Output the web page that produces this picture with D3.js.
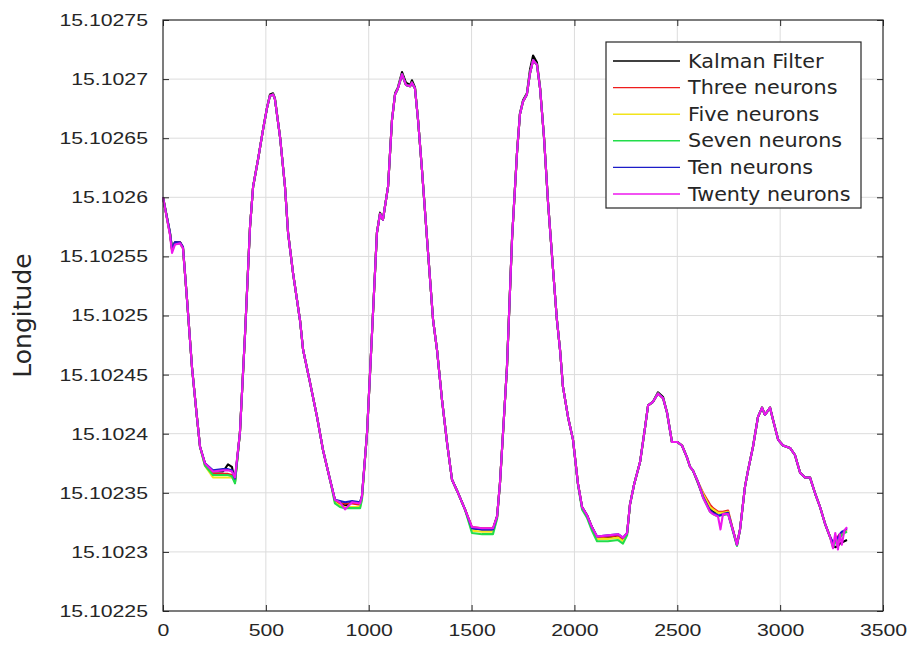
<!DOCTYPE html>
<html>
<head>
<meta charset="utf-8">
<script src="https://cdn.jsdelivr.net/npm/d3@7"></script>
<style>
  body { margin: 0; background: #fff; }
  svg { font-family: "DejaVu Sans", sans-serif; }
</style>
</head>
<body>
<svg id="chart" width="916" height="648"></svg>
<script>
// sample index, shared by all series
const samples = [
  0, 34, 44, 58, 83, 97, 117, 141, 165, 180,
  204, 243, 292, 316, 335, 350,
  374, 399, 423, 438, 462, 486, 506, 520, 535, 544,
  569, 593, 608, 632, 666, 681, 715, 749, 778, 812,
  836, 860, 885, 919, 958, 967,
  992, 1016, 1040, 1055, 1069, 1094, 1113, 1128, 1142, 1162,
  1181, 1201, 1210, 1225, 1240, 1259, 1283, 1313, 1332, 1356,
  1381, 1405, 1434, 1468,
  1502, 1551, 1604, 1624,
  1638, 1653, 1672, 1697, 1721, 1735, 1750, 1769, 1784, 1799,
  1818, 1833, 1852, 1872, 1896, 1915, 1930, 1944, 1969, 1993,
  2017, 2037, 2061, 2085,
  2110, 2163, 2212, 2236, 2256,
  2270, 2290, 2319, 2343, 2358, 2382, 2406, 2431, 2450, 2474,
  2499, 2523, 2547, 2562, 2576, 2601,
  2625, 2659, 2674, 2698, 2710, 2722, 2747, 2766, 2790, 2805,
  2829, 2844, 2868, 2892, 2912, 2926, 2951, 2965, 2990, 3014,
  3048, 3072, 3097, 3121, 3145, 3169, 3194, 3218, 3242,
  3257, 3268, 3281, 3290, 3300, 3312, 3325
];

const kalman = [
  15.102600, 15.102570, 15.102557, 15.102562, 15.102562, 15.102558, 15.102513, 15.102456, 15.102414, 15.102389,
  15.102375, 15.102368, 15.102368, 15.102374, 15.102372, 15.102359,
  15.102401, 15.102485, 15.102575, 15.102609, 15.102632, 15.102657, 15.102676, 15.102687, 15.102688, 15.102684,
  15.102651, 15.102609, 15.102570, 15.102536, 15.102496, 15.102471, 15.102443, 15.102414, 15.102386, 15.102361,
  15.102344, 15.102342, 15.102339, 15.102342, 15.102342, 15.102347,
  15.102401, 15.102485, 15.102570, 15.102587, 15.102581, 15.102609, 15.102665, 15.102688, 15.102693, 15.102706,
  15.102697, 15.102695, 15.102699, 15.102693, 15.102665, 15.102623, 15.102566, 15.102496, 15.102471, 15.102429,
  15.102392, 15.102361, 15.102350, 15.102336,
  15.102320, 15.102319, 15.102319, 15.102330,
  15.102358, 15.102401, 15.102456, 15.102566, 15.102638, 15.102671, 15.102682, 15.102688, 15.102708, 15.102720,
  15.102714, 15.102693, 15.102651, 15.102595, 15.102539, 15.102496, 15.102471, 15.102440, 15.102414, 15.102395,
  15.102358, 15.102338, 15.102331, 15.102321,
  15.102312, 15.102312, 15.102314, 15.102310, 15.102316,
  15.102340, 15.102357, 15.102376, 15.102405, 15.102424, 15.102427, 15.102435, 15.102431, 15.102418, 15.102393,
  15.102393, 15.102390, 15.102380, 15.102372, 15.102369, 15.102358,
  15.102347, 15.102336, 15.102334, 15.102333, 15.102333, 15.102333, 15.102333, 15.102321, 15.102306, 15.102319,
  15.102355, 15.102369, 15.102389, 15.102414, 15.102422, 15.102416, 15.102422, 15.102412, 15.102395, 15.102390,
  15.102388, 15.102382, 15.102367, 15.102363, 15.102363, 15.102350, 15.102338, 15.102324, 15.102313,
  15.102306, 15.102304, 15.102305, 15.102307, 15.102308, 15.102309, 15.102310
];

const three = [
  15.102600, 15.102569, 15.102555, 15.102561, 15.102562, 15.102557, 15.102513, 15.102456, 15.102414, 15.102389,
  15.102374, 15.102366, 15.102366, 15.102366, 15.102365, 15.102361,
  15.102401, 15.102485, 15.102575, 15.102609, 15.102632, 15.102657, 15.102676, 15.102686, 15.102687, 15.102683,
  15.102651, 15.102609, 15.102570, 15.102536, 15.102496, 15.102471, 15.102443, 15.102414, 15.102386, 15.102361,
  15.102343, 15.102341, 15.102341, 15.102341, 15.102340, 15.102346,
  15.102401, 15.102485, 15.102570, 15.102586, 15.102581, 15.102609, 15.102665, 15.102687, 15.102692, 15.102704,
  15.102695, 15.102694, 15.102697, 15.102692, 15.102665, 15.102623, 15.102566, 15.102496, 15.102471, 15.102429,
  15.102392, 15.102361, 15.102350, 15.102336,
  15.102321, 15.102320, 15.102320, 15.102330,
  15.102358, 15.102401, 15.102456, 15.102566, 15.102638, 15.102670, 15.102681, 15.102687, 15.102705, 15.102716,
  15.102712, 15.102692, 15.102651, 15.102595, 15.102539, 15.102496, 15.102471, 15.102440, 15.102414, 15.102395,
  15.102358, 15.102338, 15.102331, 15.102321,
  15.102312, 15.102313, 15.102314, 15.102311, 15.102316,
  15.102340, 15.102357, 15.102376, 15.102405, 15.102424, 15.102427, 15.102434, 15.102430, 15.102418, 15.102393,
  15.102393, 15.102390, 15.102380, 15.102372, 15.102369, 15.102359,
  15.102350, 15.102340, 15.102337, 15.102334, 15.102334, 15.102334, 15.102335, 15.102322, 15.102306, 15.102319,
  15.102355, 15.102369, 15.102389, 15.102414, 15.102422, 15.102416, 15.102422, 15.102412, 15.102395, 15.102390,
  15.102388, 15.102382, 15.102367, 15.102363, 15.102363, 15.102350, 15.102338, 15.102324, 15.102313,
  15.102307, 15.102311, 15.102313, 15.102315, 15.102316, 15.102318, 15.102319
];

const five = [
  15.102600, 15.102569, 15.102555, 15.102561, 15.102561, 15.102557, 15.102513, 15.102456, 15.102414, 15.102389,
  15.102373, 15.102363, 15.102363, 15.102363, 15.102363, 15.102360,
  15.102401, 15.102485, 15.102575, 15.102609, 15.102632, 15.102657, 15.102676, 15.102686, 15.102687, 15.102683,
  15.102651, 15.102609, 15.102570, 15.102536, 15.102496, 15.102471, 15.102443, 15.102414, 15.102386, 15.102361,
  15.102342, 15.102339, 15.102338, 15.102338, 15.102338, 15.102345,
  15.102401, 15.102485, 15.102570, 15.102586, 15.102581, 15.102609, 15.102665, 15.102687, 15.102692, 15.102704,
  15.102695, 15.102694, 15.102697, 15.102692, 15.102665, 15.102623, 15.102566, 15.102496, 15.102471, 15.102429,
  15.102392, 15.102361, 15.102350, 15.102336,
  15.102318, 15.102317, 15.102317, 15.102329,
  15.102358, 15.102401, 15.102456, 15.102566, 15.102638, 15.102670, 15.102681, 15.102687, 15.102705, 15.102716,
  15.102712, 15.102692, 15.102651, 15.102595, 15.102539, 15.102496, 15.102471, 15.102440, 15.102414, 15.102395,
  15.102358, 15.102337, 15.102330, 15.102320,
  15.102311, 15.102311, 15.102312, 15.102309, 15.102315,
  15.102340, 15.102357, 15.102376, 15.102405, 15.102424, 15.102427, 15.102434, 15.102430, 15.102418, 15.102393,
  15.102393, 15.102390, 15.102380, 15.102372, 15.102369, 15.102359,
  15.102349, 15.102338, 15.102336, 15.102333, 15.102333, 15.102333, 15.102334, 15.102321, 15.102306, 15.102319,
  15.102355, 15.102369, 15.102389, 15.102414, 15.102422, 15.102416, 15.102422, 15.102412, 15.102395, 15.102390,
  15.102388, 15.102382, 15.102367, 15.102363, 15.102363, 15.102350, 15.102338, 15.102324, 15.102313,
  15.102306, 15.102309, 15.102311, 15.102313, 15.102315, 15.102317, 15.102318
];

const seven = [
  15.102600, 15.102569, 15.102556, 15.102561, 15.102561, 15.102557, 15.102513, 15.102456, 15.102414, 15.102389,
  15.102373, 15.102365, 15.102365, 15.102365, 15.102364, 15.102358,
  15.102401, 15.102485, 15.102575, 15.102609, 15.102632, 15.102657, 15.102676, 15.102686, 15.102687, 15.102683,
  15.102651, 15.102609, 15.102570, 15.102536, 15.102496, 15.102471, 15.102443, 15.102414, 15.102386, 15.102361,
  15.102341, 15.102338, 15.102337, 15.102337, 15.102337, 15.102344,
  15.102401, 15.102485, 15.102570, 15.102586, 15.102581, 15.102609, 15.102665, 15.102687, 15.102692, 15.102704,
  15.102695, 15.102694, 15.102697, 15.102692, 15.102665, 15.102623, 15.102566, 15.102496, 15.102471, 15.102429,
  15.102392, 15.102361, 15.102350, 15.102336,
  15.102316, 15.102315, 15.102315, 15.102328,
  15.102358, 15.102401, 15.102456, 15.102566, 15.102638, 15.102670, 15.102681, 15.102687, 15.102705, 15.102716,
  15.102712, 15.102692, 15.102651, 15.102595, 15.102539, 15.102496, 15.102471, 15.102440, 15.102414, 15.102395,
  15.102357, 15.102336, 15.102329, 15.102318,
  15.102309, 15.102309, 15.102310, 15.102307, 15.102314,
  15.102340, 15.102357, 15.102376, 15.102405, 15.102424, 15.102427, 15.102434, 15.102430, 15.102418, 15.102393,
  15.102393, 15.102390, 15.102380, 15.102372, 15.102369, 15.102359,
  15.102346, 15.102334, 15.102332, 15.102330, 15.102331, 15.102331, 15.102332, 15.102320, 15.102305, 15.102319,
  15.102355, 15.102369, 15.102389, 15.102414, 15.102422, 15.102416, 15.102422, 15.102412, 15.102395, 15.102390,
  15.102388, 15.102382, 15.102367, 15.102363, 15.102363, 15.102350, 15.102338, 15.102324, 15.102313,
  15.102304, 15.102308, 15.102310, 15.102312, 15.102314, 15.102316, 15.102317
];

const ten = [
  15.102600, 15.102570, 15.102556, 15.102562, 15.102562, 15.102558, 15.102513, 15.102456, 15.102414, 15.102389,
  15.102375, 15.102369, 15.102370, 15.102370, 15.102369, 15.102362,
  15.102401, 15.102485, 15.102575, 15.102609, 15.102632, 15.102657, 15.102676, 15.102686, 15.102687, 15.102683,
  15.102651, 15.102609, 15.102570, 15.102536, 15.102496, 15.102471, 15.102443, 15.102414, 15.102386, 15.102361,
  15.102344, 15.102343, 15.102342, 15.102343, 15.102342, 15.102347,
  15.102401, 15.102485, 15.102570, 15.102586, 15.102581, 15.102609, 15.102665, 15.102687, 15.102692, 15.102704,
  15.102695, 15.102694, 15.102697, 15.102692, 15.102665, 15.102623, 15.102566, 15.102496, 15.102471, 15.102429,
  15.102392, 15.102361, 15.102350, 15.102336,
  15.102320, 15.102319, 15.102319, 15.102330,
  15.102358, 15.102401, 15.102456, 15.102566, 15.102638, 15.102670, 15.102681, 15.102687, 15.102705, 15.102716,
  15.102712, 15.102692, 15.102651, 15.102595, 15.102539, 15.102496, 15.102471, 15.102440, 15.102414, 15.102395,
  15.102358, 15.102338, 15.102331, 15.102321,
  15.102313, 15.102314, 15.102315, 15.102312, 15.102316,
  15.102340, 15.102357, 15.102376, 15.102405, 15.102424, 15.102427, 15.102434, 15.102430, 15.102418, 15.102393,
  15.102393, 15.102390, 15.102380, 15.102372, 15.102369, 15.102359,
  15.102347, 15.102335, 15.102333, 15.102331, 15.102331, 15.102332, 15.102333, 15.102321, 15.102306, 15.102319,
  15.102355, 15.102369, 15.102389, 15.102414, 15.102422, 15.102416, 15.102422, 15.102412, 15.102395, 15.102390,
  15.102388, 15.102382, 15.102367, 15.102363, 15.102363, 15.102350, 15.102338, 15.102324, 15.102313,
  15.102308, 15.102310, 15.102312, 15.102315, 15.102317, 15.102318, 15.102320
];

const twenty = [
  15.102600, 15.102568, 15.102553, 15.102560, 15.102561, 15.102557, 15.102513, 15.102456, 15.102414, 15.102389,
  15.102375, 15.102368, 15.102369, 15.102369, 15.102368, 15.102363,
  15.102401, 15.102485, 15.102575, 15.102609, 15.102632, 15.102657, 15.102676, 15.102686, 15.102687, 15.102683,
  15.102651, 15.102609, 15.102570, 15.102536, 15.102496, 15.102471, 15.102443, 15.102414, 15.102386, 15.102361,
  15.102344, 15.102342, 15.102336, 15.102342, 15.102341, 15.102347,
  15.102401, 15.102485, 15.102570, 15.102586, 15.102581, 15.102609, 15.102665, 15.102687, 15.102692, 15.102704,
  15.102695, 15.102694, 15.102697, 15.102692, 15.102665, 15.102623, 15.102566, 15.102496, 15.102471, 15.102429,
  15.102392, 15.102361, 15.102350, 15.102336,
  15.102321, 15.102320, 15.102320, 15.102330,
  15.102358, 15.102401, 15.102456, 15.102566, 15.102638, 15.102670, 15.102681, 15.102687, 15.102705, 15.102716,
  15.102712, 15.102692, 15.102651, 15.102595, 15.102539, 15.102496, 15.102471, 15.102440, 15.102414, 15.102395,
  15.102358, 15.102338, 15.102331, 15.102321,
  15.102313, 15.102314, 15.102315, 15.102312, 15.102316,
  15.102340, 15.102357, 15.102376, 15.102405, 15.102424, 15.102427, 15.102434, 15.102430, 15.102418, 15.102393,
  15.102393, 15.102390, 15.102380, 15.102372, 15.102369, 15.102359,
  15.102346, 15.102334, 15.102332, 15.102330, 15.102319, 15.102332, 15.102332, 15.102321, 15.102306, 15.102319,
  15.102355, 15.102369, 15.102389, 15.102414, 15.102422, 15.102416, 15.102422, 15.102412, 15.102395, 15.102390,
  15.102388, 15.102382, 15.102367, 15.102363, 15.102363, 15.102350, 15.102338, 15.102324, 15.102313,
  15.102303, 15.102316, 15.102302, 15.102315, 15.102306, 15.102318, 15.102321
];

const seriesNames = ["Kalman Filter", "Three neurons", "Five neurons", "Seven neurons", "Ten neurons", "Twenty neurons"];
const seriesValues = [kalman, three, five, seven, ten, twenty];
const seriesColors = ["#000000", "#ee1c1c", "#f2e41c", "#22dd4a", "#1c1cc8", "#ee18ee"];

const xTicks = [0, 500, 1000, 1500, 2000, 2500, 3000, 3500];
const xTickLabels = ["0", "500", "1000", "1500", "2000", "2500", "3000", "3500"];
const yTicks = [15.10225, 15.1023, 15.10235, 15.1024, 15.10245, 15.1025, 15.10255, 15.1026, 15.10265, 15.1027, 15.10275];
const yTickLabels = ["15.10225", "15.1023", "15.10235", "15.1024", "15.10245", "15.1025", "15.10255", "15.1026", "15.10265", "15.1027", "15.10275"];
const yLabel = "Longitude";

const svg = d3.select("#chart");
const margin = { top: 20, left: 163 };
const plotW = 720;
const plotH = 591;
const stretch = 1.25; // tick labels in the figure are drawn wide

const x = d3.scaleLinear().domain([0, 3500]).range([0, plotW]);
const y = d3.scaleLinear().domain([15.10225, 15.10275]).range([plotH, 0]);

const g = svg.append("g").attr("transform", `translate(${margin.left},${margin.top})`);

// grid
g.append("g")
  .selectAll("line")
  .data(xTicks.slice(1, -1))
  .join("line")
  .attr("x1", (d) => x(d)).attr("x2", (d) => x(d))
  .attr("y1", 0).attr("y2", plotH)
  .attr("stroke", "#dcdcdc").attr("stroke-width", 1);

g.append("g")
  .selectAll("line")
  .data(yTicks.slice(1, -1))
  .join("line")
  .attr("x1", 0).attr("x2", plotW)
  .attr("y1", (d) => y(d)).attr("y2", (d) => y(d))
  .attr("stroke", "#dcdcdc").attr("stroke-width", 1);

// lines
const line = d3.line()
  .x((d, i) => x(samples[i]))
  .y((d) => y(d));

g.append("g")
  .attr("fill", "none")
  .selectAll("path")
  .data(seriesValues)
  .join("path")
  .attr("stroke", (d, i) => seriesColors[i])
  .attr("stroke-width", 2.1)
  .attr("stroke-linejoin", "round")
  .attr("d", line);

// axes
const styleAxis = (sel) => {
  sel.select(".domain").remove();
  sel.selectAll(".tick line").attr("stroke", "#262626");
  sel.selectAll(".tick text").attr("font-size", 17).attr("fill", "#262626");
};

const xAxisG = g.append("g")
  .attr("transform", `translate(0,${plotH})`)
  .call(d3.axisBottom(x).tickValues(xTicks).tickSize(-6).tickPadding(13)
    .tickFormat((d, i) => xTickLabels[i]))
  .call(styleAxis);
xAxisG.selectAll(".tick text").attr("transform", `scale(${stretch},1)`);

g.append("g")
  .call(d3.axisTop(x).tickValues(xTicks).tickSize(-6).tickFormat(""))
  .call(styleAxis);

const yAxisG = g.append("g")
  .call(d3.axisLeft(y).tickValues(yTicks).tickSize(-6).tickPadding(12)
    .tickFormat((d, i) => yTickLabels[i]))
  .call(styleAxis);
yAxisG.selectAll(".tick text").attr("transform", `scale(${stretch},1)`);

g.append("g")
  .attr("transform", `translate(${plotW},0)`)
  .call(d3.axisRight(y).tickValues(yTicks).tickSize(-6).tickFormat(""))
  .call(styleAxis);

g.append("rect")
  .attr("width", plotW).attr("height", plotH)
  .attr("fill", "none").attr("stroke", "#262626").attr("stroke-width", 1.2);

svg.append("text")
  .attr("transform", `translate(31,${margin.top + plotH / 2}) rotate(-90)`)
  .attr("text-anchor", "middle")
  .attr("font-size", 25)
  .attr("fill", "#262626")
  .text(yLabel);

// legend
const legend = svg.append("g").attr("transform", "translate(606,42)");
legend.append("rect")
  .attr("width", 255).attr("height", 166)
  .attr("fill", "#fff").attr("stroke", "#262626").attr("stroke-width", 1.2);

const rows = legend.selectAll("g.row")
  .data(seriesNames)
  .join("g")
  .attr("class", "row")
  .attr("transform", (d, i) => `translate(0,${19 + i * 26.6})`);

rows.append("line")
  .attr("x1", 7).attr("x2", 74)
  .attr("stroke", (d, i) => seriesColors[i])
  .attr("stroke-width", 1.4);

rows.append("text")
  .attr("transform", "translate(82,0) scale(1.09,1)")
  .attr("dy", "0.35em")
  .attr("font-size", 19)
  .attr("fill", "#262626")
  .text((d) => d);
</script>
</body>
</html>
